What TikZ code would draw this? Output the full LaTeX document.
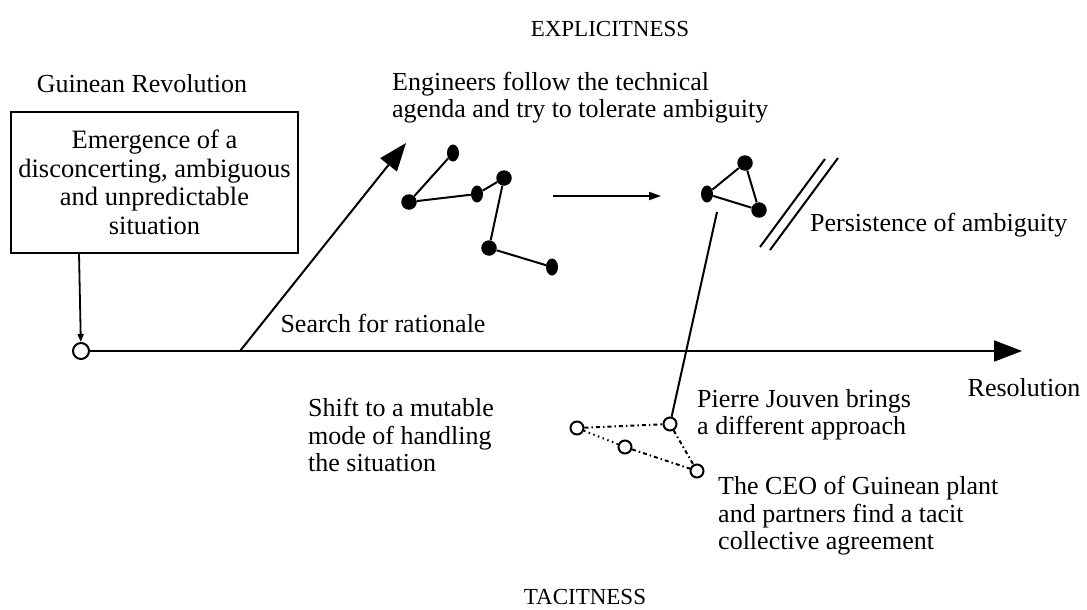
\documentclass[tikz,border=0pt]{standalone}
\usepackage{fontspec}
\setmainfont{Liberation Serif}
\usetikzlibrary{arrows.meta,shapes.geometric}
\begin{document}
\begin{tikzpicture}[x=1pt,y=-1pt,
  lbl/.style={inner sep=0pt, align=left, font=\fontsize{26}{27.5}\selectfont},
  polelbl/.style={inner sep=0pt, font=\fontsize{23}{24}\selectfont},
  framebox/.style={draw, line width=1.8pt, inner sep=0pt, minimum width=287pt,
    minimum height=141pt, align=center, font=\fontsize{26.5}{28.5}\selectfont},
  bigdot/.style={circle, fill=black, inner sep=0pt, minimum size=15.5pt},
  ovaldot/.style={ellipse, fill=black, inner sep=0pt, minimum width=12pt, minimum height=17pt},
  hollow/.style={circle, draw, line width=2pt, fill=white, inner sep=0pt, minimum size=13pt},
  origin/.style={circle, draw, line width=2pt, fill=white, inner sep=0pt, minimum size=16pt},
  link/.style={line width=2pt},
  tacitlink/.style={line width=2pt, dash pattern=on 4pt off 3pt on 1.5pt off 3pt},
  dotlink/.style={line width=2pt, dash pattern=on 1.5pt off 3.5pt},
  bigarrow/.style={line width=2pt, -{Triangle[length=28pt,width=21pt]}},
  smallarrow/.style={line width=1.8pt, -{Triangle[length=12pt,width=8pt]}},
  tinyarrow/.style={line width=1.8pt, -{Triangle[length=8pt,width=6pt]}}
]
\useasboundingbox (0,0) rectangle (1087,610);

% pole labels
\node[polelbl] (expl) at (610,29) {EXPLICITNESS};
\node[polelbl] (tacit) at (585,597) {TACITNESS};

% starting situation
\node[lbl] (guinea) at (142,84) {Guinean Revolution};
\node[framebox] (emerge) at (154.5,182.5)
  {Emergence of a\\disconcerting, ambiguous\\and unpredictable\\situation};

% main axis
\node[origin] (o) at (81,351) {};
\coordinate (res) at (1022,351);
\coordinate (emergefoot) at (79,253);
\draw[tinyarrow] (emergefoot) -- (o);
\draw[bigarrow] (o) -- (res);
\node[lbl] (search) at (383,323) {Search for rationale};
\node[lbl] (resol) at (1024,388) {Resolution};

% explicit branch
\coordinate (d0) at (240,351);
\coordinate (d1) at (406,143);
\draw[bigarrow] (d0) -- (d1);
\node[lbl, anchor=west] (eng) at (392,97.5)
  {Engineers follow the technical\\agenda and try to tolerate ambiguity};

% scattered network
\node[ovaldot] (a) at (453,153) {};
\node[bigdot]  (b) at (409,202) {};
\node[ovaldot] (c) at (477,194) {};
\node[bigdot]  (d) at (504,178) {};
\node[bigdot]  (e) at (489,248) {};
\node[ovaldot] (f) at (552,267) {};
\draw[link] (a) -- (b) -- (c) -- (d) -- (e) -- (f);

\coordinate (m0) at (553,196);
\coordinate (m1) at (661,196);
\draw[smallarrow] (m0) -- (m1);

% closed triangle
\node[bigdot]  (g) at (745,163) {};
\node[ovaldot] (h) at (707,194) {};
\node[bigdot]  (i) at (759,210) {};
\draw[link] (g) -- (h) -- (i) -- (g);

% persistence marker
\coordinate (s1a) at (760,247);
\coordinate (s1b) at (825,159);
\coordinate (s2a) at (770,250);
\coordinate (s2b) at (838,158);
\draw[link] (s1a) -- (s1b);
\draw[link] (s2a) -- (s2b);
\node[lbl, anchor=west] (persist) at (810,225) {Persistence of ambiguity};

% tacit triangle
\node[hollow] (l) at (577,428) {};
\node[hollow] (mm) at (625,447) {};
\node[hollow] (p) at (670,424) {};
\node[hollow] (r) at (697,471) {};
\coordinate (h0) at (717,212);
\draw[link] (h0) -- (p);
\draw[tacitlink] (l) -- (p);
\draw[dotlink] (l) -- (mm);
\draw[tacitlink] (mm) -- (r);
\draw[tacitlink] (p) -- (r);

\node[lbl, anchor=west] (pierre) at (697,414.5)
  {Pierre Jouven brings\\a different approach};
\node[lbl, anchor=west] (shift) at (308,435)
  {Shift to a mutable\\mode of handling\\the situation};
\node[lbl, anchor=west] (ceo) at (718,516)
  {The CEO of Guinean plant\\and partners find a tacit\\collective agreement};
\end{tikzpicture}
\end{document}
